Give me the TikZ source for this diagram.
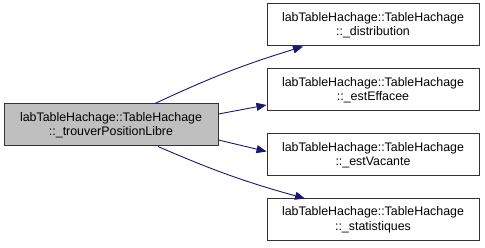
\documentclass[tikz,border=0pt]{standalone}
\usepackage{fontspec}
\setmainfont{Liberation Sans}
\usepackage{xcolor}
\usetikzlibrary{arrows.meta}

\definecolor{edgeblue}{RGB}{25,25,112}
\definecolor{callergray}{RGB}{191,191,191}

\begin{document}
\begin{tikzpicture}[x=1pt,y=1pt,
    fn/.style={draw=black!80,line width=1pt,fill=white,align=center,
      minimum width=212pt,minimum height=42pt,inner sep=0pt,
      font=\fontsize{12.4}{14.5}\selectfont},
    caller/.style={fn,fill=callergray,minimum width=214pt},
    call/.style={draw=edgeblue,line width=0.9pt,
      -{Triangle[length=10pt,width=8pt,fill=edgeblue]}}]
  \useasboundingbox (0,0) rectangle (485,248);
  \node[caller] (pos) at (111,123) {labTableHachage::TableHachage\\::\_trouverPositionLibre};
  \node[fn] (dist) at (373,223) {labTableHachage::TableHachage\\::\_distribution};
  \node[fn] (eff) at (373,158) {labTableHachage::TableHachage\\::\_estEffacee};
  \node[fn] (vac) at (373,93) {labTableHachage::TableHachage\\::\_estVacante};
  \node[fn] (stat) at (373,28) {labTableHachage::TableHachage\\::\_statistiques};
  % calls made by _trouverPositionLibre
  \draw[call] ([xshift=44pt]pos.north) to[bend left=4] ([xshift=-70pt]dist.south);
  \draw[call] ([yshift=11pt]pos.east) -- ([yshift=-15pt]eff.west);
  \draw[call] ([yshift=-15pt]pos.east) -- ([yshift=-18pt]vac.north west);
  \draw[call] ([xshift=47pt]pos.south) to[bend right=4] ([xshift=-68pt]stat.north);
\end{tikzpicture}
\end{document}
